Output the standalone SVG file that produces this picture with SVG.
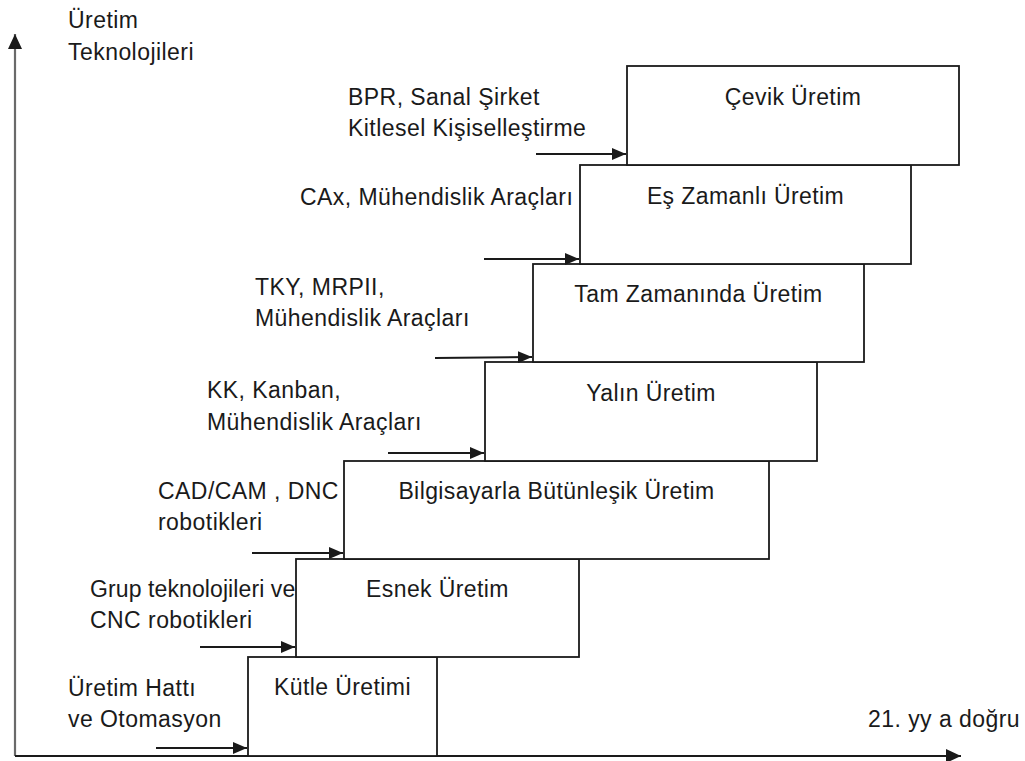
<svg xmlns="http://www.w3.org/2000/svg" width="1025" height="761" viewBox="0 0 1025 761">
  <style>
    .box { fill: #ffffff; stroke: #1a1a1a; stroke-width: 1.8; }
    .title { font-family: "Liberation Sans", Arial, sans-serif; font-size: 23px; letter-spacing: 0.4px; fill: #1a1a1a; text-anchor: middle; }
    .lbl { font-family: "Liberation Sans", Arial, sans-serif; font-size: 23px; letter-spacing: 0.45px; fill: #1a1a1a; }
    .tight { letter-spacing: 0.1px; }
    .arrow { stroke: #1a1a1a; stroke-width: 2; fill: none; marker-end: url(#head); }
  </style>
  <defs>
    <marker id="head" markerUnits="userSpaceOnUse" markerWidth="16" markerHeight="12" refX="14" refY="6" orient="auto">
      <path d="M0,0 L14,6 L0,12 Z" fill="#1a1a1a"/>
    </marker>
    <marker id="axisHead" markerUnits="userSpaceOnUse" markerWidth="16" markerHeight="14" refX="15" refY="7" orient="auto">
      <path d="M0,0 L15,7 L0,14 Z" fill="#1a1a1a"/>
    </marker>
  </defs>
  <rect width="1025" height="761" fill="#ffffff"/>

  <!-- axes -->
  <g id="axes">
    <line x1="15" y1="756" x2="15" y2="34" stroke="#6a6a6a" stroke-width="2.2" marker-end="url(#axisHead)"/>
    <line x1="15" y1="756" x2="961" y2="756" stroke="#1a1a1a" stroke-width="2" marker-end="url(#axisHead)"/>
    <text class="lbl" x="68" y="28">Üretim</text>
    <text class="lbl" x="68" y="60">Teknolojileri</text>
    <text class="lbl" x="868" y="727">21. yy a doğru</text>
  </g>

  <!-- production stages, bottom to top -->
  <g id="kutle">
    <rect class="box" x="248" y="657" width="189" height="99"/>
    <text class="title" x="342.5" y="695">Kütle Üretimi</text>
  </g>
  <g id="esnek">
    <rect class="box" x="296" y="559" width="283" height="98"/>
    <text class="title" x="437.5" y="597">Esnek Üretim</text>
  </g>
  <g id="bilgisayar">
    <rect class="box" x="344" y="461" width="425" height="98"/>
    <text class="title" x="556.5" y="499">Bilgisayarla Bütünleşik Üretim</text>
  </g>
  <g id="yalin">
    <rect class="box" x="485" y="362" width="332" height="99"/>
    <text class="title" x="651" y="401">Yalın Üretim</text>
  </g>
  <g id="tam-zamaninda">
    <rect class="box" x="533" y="264" width="331" height="98"/>
    <text class="title" x="698.5" y="302">Tam Zamanında Üretim</text>
  </g>
  <g id="es-zamanli">
    <rect class="box" x="580" y="165" width="331" height="99"/>
    <text class="title" x="745.5" y="204">Eş Zamanlı Üretim</text>
  </g>
  <g id="cevik">
    <rect class="box" x="627" y="66" width="332" height="99"/>
    <text class="title" x="793" y="105">Çevik Üretim</text>
  </g>

  <!-- enabling technologies -->
  <g id="labels">
    <text class="lbl" x="68" y="696">Üretim Hattı</text>
    <text class="lbl" x="68" y="727">ve Otomasyon</text>
    <text class="lbl tight" x="90" y="597">Grup teknolojileri ve</text>
    <text class="lbl" x="90" y="628">CNC robotikleri</text>
    <text class="lbl" x="158" y="499">CAD/CAM , DNC</text>
    <text class="lbl" x="158" y="530">robotikleri</text>
    <text class="lbl" x="207" y="398">KK, Kanban,</text>
    <text class="lbl" x="207" y="430">Mühendislik Araçları</text>
    <text class="lbl" x="255" y="295">TKY, MRPII,</text>
    <text class="lbl" x="255" y="326">Mühendislik Araçları</text>
    <text class="lbl" x="300" y="205">CAx, Mühendislik Araçları</text>
    <text class="lbl" x="348" y="105">BPR, Sanal Şirket</text>
    <text class="lbl" x="348" y="136">Kitlesel Kişiselleştirme</text>
  </g>

  <!-- connectors -->
  <g id="connectors">
    <line class="arrow" x1="156" y1="748" x2="247" y2="748"/>
    <line class="arrow" x1="200" y1="647" x2="295" y2="647"/>
    <line class="arrow" x1="252" y1="553" x2="343" y2="553"/>
    <line class="arrow" x1="388" y1="453" x2="484" y2="453"/>
    <line class="arrow" x1="435" y1="358" x2="532" y2="357"/>
    <line class="arrow" x1="484" y1="259" x2="579" y2="259"/>
    <line class="arrow" x1="536" y1="154" x2="626" y2="154"/>
  </g>
</svg>
